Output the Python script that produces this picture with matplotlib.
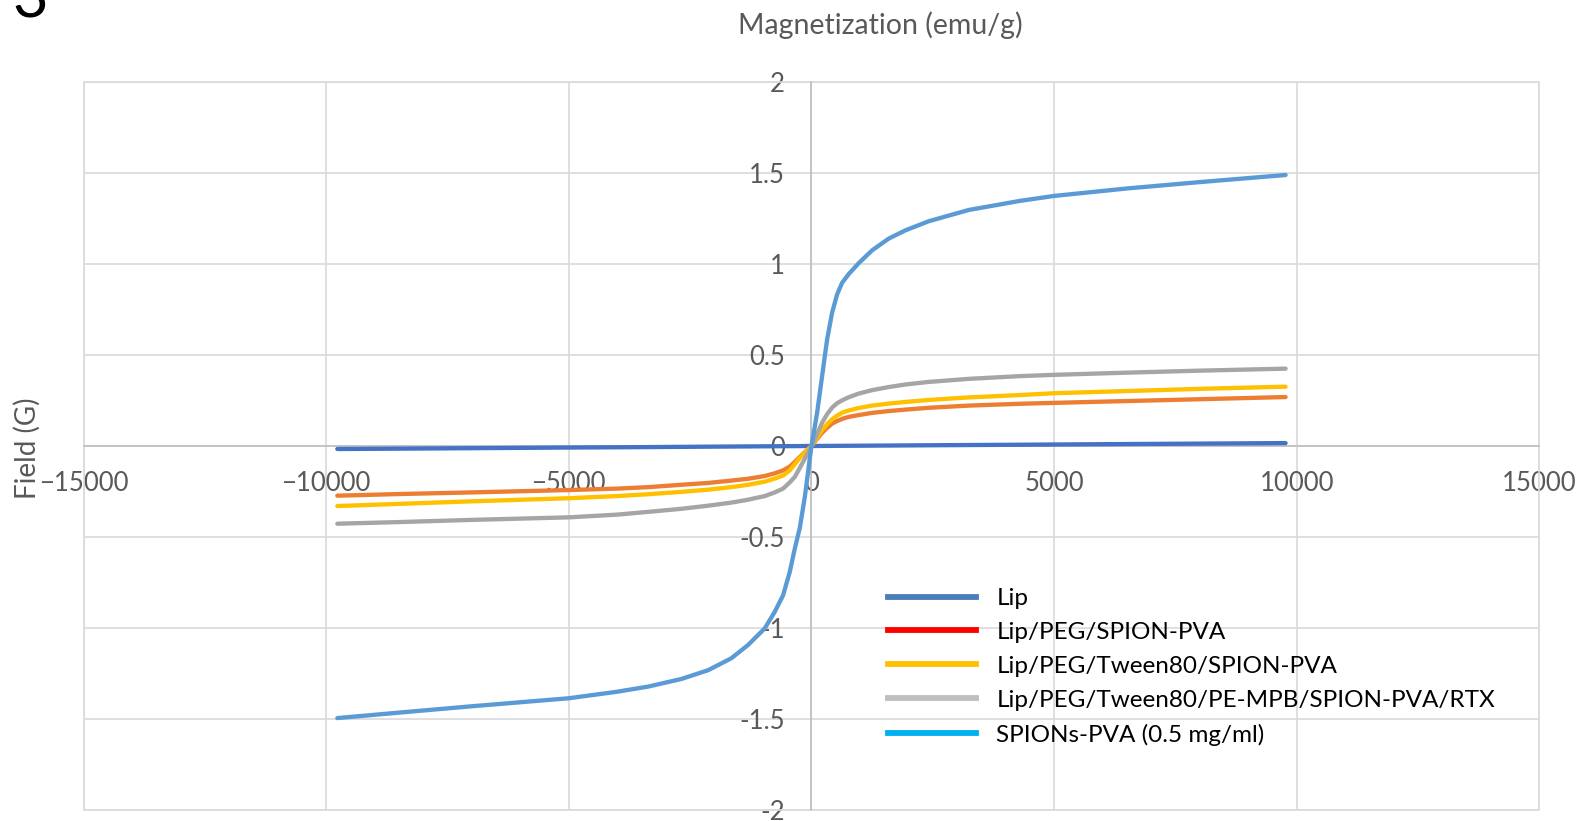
import matplotlib
matplotlib.use("Agg")
import matplotlib.pyplot as plt
from matplotlib.lines import Line2D
from matplotlib.patches import Rectangle

plt.rcParams['font.family'] = ['Lato', 'DejaVu Sans']

# field (G) shared by all samples
field = [-9770, -8500, -7000, -5000, -4000, -3366, -2679, -2130, -1649, -1305, -962, -756,
         -584, -447, -344, -240, -137, 0, 117, 220, 323, 426, 529, 632,
         769, 975, 1250, 1594, 1937, 2418, 3243, 4300, 5000, 6500, 8000, 9770]

# magnetization (emu/g)
lip = [-0.0165, -0.0145, -0.012, -0.0085, -0.007, -0.006, -0.0047, -0.0037, -0.0029, -0.0023, -0.0017, -0.0013,
       -0.001, -0.0008, -0.0006, -0.0004, -0.0002, 0.0, 0.0002, 0.0004, 0.0006, 0.0007, 0.0009, 0.0011,
       0.0013, 0.0016, 0.002, 0.0026, 0.0032, 0.004, 0.0053, 0.007, 0.0082, 0.0107, 0.0131, 0.016]
peg_spion = [-0.273, -0.264, -0.255, -0.242, -0.234, -0.226, -0.213, -0.203, -0.19, -0.18, -0.165, -0.15,
             -0.134, -0.113, -0.088, -0.06, -0.034, 0.0, 0.04, 0.073, 0.1, 0.123, 0.137, 0.149,
             0.16, 0.17, 0.182, 0.192, 0.2, 0.21, 0.222, 0.232, 0.237, 0.247, 0.257, 0.269]
tween = [-0.33, -0.318, -0.304, -0.287, -0.275, -0.265, -0.252, -0.24, -0.226, -0.213, -0.196, -0.179,
         -0.162, -0.134, -0.10, -0.065, -0.038, 0.0, 0.048, 0.088, 0.12, 0.147, 0.167, 0.183,
         0.195, 0.209, 0.222, 0.233, 0.242, 0.253, 0.267, 0.28, 0.29, 0.302, 0.314, 0.326]
rtx = [-0.427, -0.418, -0.406, -0.392, -0.377, -0.362, -0.345, -0.328, -0.311, -0.295, -0.275, -0.255,
       -0.234, -0.2, -0.17, -0.12, -0.07, 0.0, 0.068, 0.128, 0.175, 0.211, 0.235, 0.251,
       0.268, 0.288, 0.307, 0.324, 0.338, 0.352, 0.369, 0.384, 0.391, 0.403, 0.414, 0.425]
spions = [-1.495, -1.465, -1.43, -1.386, -1.35, -1.322, -1.28, -1.232, -1.166, -1.093, -1.002, -0.911,
          -0.82, -0.692, -0.565, -0.45, -0.28, 0.0, 0.183, 0.385, 0.586, 0.733, 0.833, 0.897,
          0.945, 1.005, 1.075, 1.14, 1.185, 1.235, 1.297, 1.347, 1.374, 1.415, 1.45, 1.489]

labels = ['Lip', 'Lip/PEG/SPION-PVA', 'Lip/PEG/Tween80/SPION-PVA',
          'Lip/PEG/Tween80/PE-MPB/SPION-PVA/RTX', 'SPIONs-PVA (0.5 mg/ml)']
line_colors = ['#4472c4', '#ed7d31', '#ffc000', '#a5a5a5', '#5b9bd5']
legend_colors = ['#4a7ebb', '#ff0000', '#ffc000', '#bfbfbf', '#00b0f0']

W, H = 1583, 821
fig = plt.figure(figsize=(W / 100, H / 100), dpi=100)
ax = fig.add_axes([83.5 / W, 1 - 810 / H, (1539.4 - 83.5) / W, (810 - 82) / H])

series = [lip, peg_spion, tween, rtx, spions]
for ys, c in zip(series, line_colors):
    ax.plot(field, ys, color=c, lw=3.1, solid_capstyle='round', solid_joinstyle='round', zorder=3)

ax.set_xlim(-15000, 15000)
ax.set_ylim(-2, 2)
ax.set_xticks(range(-15000, 15001, 5000))
ax.set_yticks([-2, -1.5, -1, -0.5, 0, 0.5, 1, 1.5, 2])
ax.set_yticklabels(['-2', '-1.5', '-1', '-0.5', '0', '0.5', '1', '1.5', '2'])
ax.grid(True, color='#d9d9d9', lw=1.2, zorder=0)
ax.set_axisbelow(True)

for s in ['top', 'right']:
    ax.spines[s].set_visible(False)
ax.spines['left'].set_position(('data', 0))
ax.spines['bottom'].set_position(('data', 0))
for s in ['left', 'bottom']:
    ax.spines[s].set_color('#bfbfbf')
    ax.spines[s].set_linewidth(1.2)
ax.tick_params(length=0, labelsize=18.5, labelcolor='#595959')
ax.tick_params(axis='x', pad=18)
ax.tick_params(axis='y', pad=19)
ax.add_patch(Rectangle((0, 0), 1, 1, transform=ax.transAxes, fill=False,
                       edgecolor='#d9d9d9', lw=1.2, clip_on=False, zorder=1))

handles = [Line2D([], [], color=c, lw=4.2) for c in legend_colors]
ax.legend(handles, labels, loc='upper left', bbox_to_anchor=(888 / W, 1 - 588 / H),
          bbox_transform=fig.transFigure, frameon=False, fontsize=17.5,
          handlelength=3.62, handletextpad=0.84, labelspacing=0.53, borderpad=0, borderaxespad=0)

fig.text(880 / W, 1 - 25 / H, 'Magnetization (emu/g)', ha='center', va='center',
         fontsize=20.5, color='#595959')
fig.text(27.3 / W, 1 - 448 / H, 'Field (G)', ha='center', va='center', rotation=90,
         fontsize=20, color='#595959')
fig.text(12 / W, 1 - 18 / H, '3', ha='left', va='baseline', fontsize=44, color='black')

fig.savefig('out.png', dpi=100)
